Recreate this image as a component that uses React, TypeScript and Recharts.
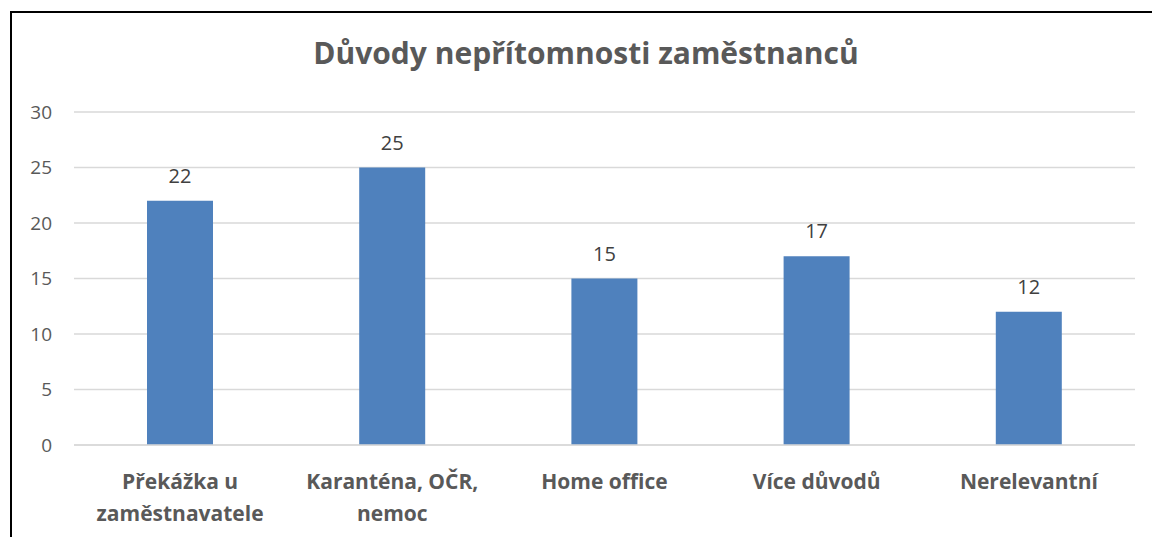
import React from "react";
import { BarChart, Bar, XAxis, YAxis, CartesianGrid, LabelList } from "recharts";

const categories = ["Překážka u zaměstnavatele", "Karanténa, OČR, nemoc", "Home office", "Více důvodů", "Nerelevantní"];
const categoryLines = [["Překážka u", "zaměstnavatele"], ["Karanténa, OČR,", "nemoc"], ["Home office"], ["Více důvodů"], ["Nerelevantní"]];
const values = [22, 25, 15, 17, 12];
const yTicks = [0, 5, 10, 15, 20, 25, 30];
const title = "Důvody nepřítomnosti zaměstnanců";

const data = categories.map((c, i) => ({ name: c, value: values[i], idx: i }));

const FONT = "'Open Sans', sans-serif";

const CatTick = (props: any) => {
  const { x, y, index } = props;
  const lines = categoryLines[index] || [];
  return (
    <text x={x} y={y} textAnchor="middle" fill="#595959" fontFamily={FONT} fontWeight={700} fontSize={21}>
      {lines.map((l: string, i: number) => (
        <tspan key={i} x={x} y={y + 36 + i * 32}>{l}</tspan>
      ))}
    </text>
  );
};

export default function App() {
  return (
    <div style={{ position: "fixed", left: 0, top: 0, width: 1152, height: 537, background: "#fff", overflow: "hidden" }}>
      <div style={{ position: "absolute", left: 10, top: 11, width: 1142, height: 2, background: "#000" }} />
      <div style={{ position: "absolute", left: 10, top: 11, width: 2, height: 526, background: "#000" }} />
      <div style={{ position: "absolute", left: 20, top: 33, width: 1132, textAlign: "center", fontFamily: FONT, fontWeight: 700, fontSize: 30, color: "#595959", lineHeight: "40px" }}>
        {title}
      </div>
      <div style={{ position: "absolute", left: 0, top: 0 }}>
        <BarChart width={1140} height={537} data={data} margin={{ top: 112, right: 5, bottom: 0, left: 0 }}>
          <CartesianGrid horizontal={true} vertical={false} stroke="#D9D9D9" strokeWidth={1.3} />
          <XAxis dataKey="name" axisLine={{ stroke: "#D9D9D9", strokeWidth: 1.3 }} tickLine={false} tick={<CatTick />} interval={0} height={92} />
          <YAxis domain={[0, 30]} ticks={yTicks} width={74} axisLine={false} tickLine={false} tickSize={0} tickMargin={22}
            tick={{ fill: "#595959", fontFamily: FONT, fontSize: 19 }} interval={0} />
          <Bar dataKey="value" fill="#4F81BD" barSize={66} isAnimationActive={false}>
            <LabelList dataKey="value" position="top" offset={18} fill="#404040" fontFamily={FONT} fontSize={20} />
          </Bar>
        </BarChart>
      </div>
    </div>
  );
}
